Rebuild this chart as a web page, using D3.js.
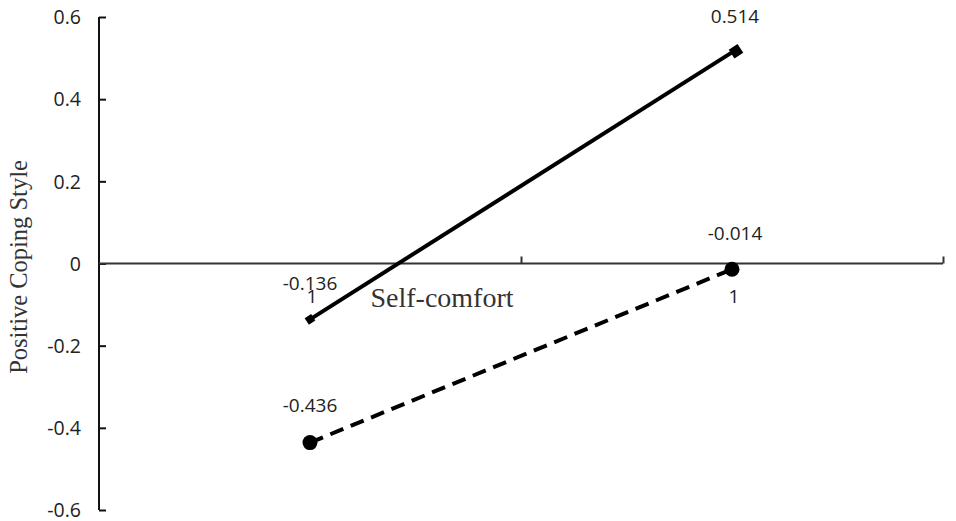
<!DOCTYPE html>
<html><head><meta charset="utf-8">
<script src="https://cdn.jsdelivr.net/npm/d3@7"></script>
<style>body{margin:0;background:#fff}svg{display:block}</style>
</head><body>
<svg id="c" width="956" height="521"></svg>
<script>
const categories = ["1", "1"];
const highSeries = [-0.136, 0.514];
const lowSeries = [-0.436, -0.014];
const yTicks = [-0.6, -0.4, -0.2, 0, 0.2, 0.4, 0.6];
const yTickLabels = ["-0.6", "-0.4", "-0.2", "0", "0.2", "0.4", "0.6"];
const yTitle = "Positive Coping Style";
const xTitle = "Self-comfort";

(function () {
const svg = d3.select("#c");
const pl = 99, pr = 943, pt = 17, pb = 510;
const sans = "Open Sans, Liberation Sans, sans-serif";
const y = d3.scaleLinear().domain([-0.6, 0.6]).range([pb, pt]);
const x = d3.scaleBand().domain([0, 1]).range([pl, pr]);
const cx = i => x(i) + x.bandwidth() / 2;

// y axis
const yAxis = d3.axisRight(y).tickValues(yTicks).tickSize(7).tickFormat((d, i) => yTickLabels[i]);
const gy = svg.append("g").attr("transform", `translate(${pl},0)`).call(yAxis);
gy.select(".domain").attr("stroke", "#111").attr("stroke-width", 2).attr("d", `M0,${pt}V${pb}`);
gy.selectAll(".tick line").attr("stroke", "#111").attr("stroke-width", 2);
gy.selectAll(".tick text").attr("x", -18).attr("text-anchor", "end").attr("dy", "0.35em")
  .attr("font-family", sans).attr("font-size", 19.5).attr("fill", "#222");

// x axis at y=0
const xAxis = d3.axisTop(d3.scaleLinear().domain([0, 2]).range([pl, pr])).tickValues([1, 2]).tickSize(7).tickFormat("");
const gx = svg.append("g").attr("transform", `translate(0,${y(0)})`).call(xAxis);
gx.select(".domain").attr("stroke", "#333").attr("stroke-width", 2).attr("d", `M${pl},0H${pr}`);
gx.selectAll(".tick line").attr("stroke", "#333").attr("stroke-width", 2);

// category labels
categories.forEach((c, i) => {
  svg.append("text").attr("x", cx(i) + 2).attr("y", y(0) + 39).attr("text-anchor", "middle")
    .attr("font-family", sans).attr("font-size", 19).attr("fill", "#222").text(c);
});

// titles
svg.append("text").attr("transform", `translate(27,267) rotate(-90)`).attr("text-anchor", "middle")
  .attr("font-family", "Liberation Serif, serif").attr("font-size", 24.5).attr("fill", "#333").text(yTitle);
svg.append("text").attr("x", 442).attr("y", 307).attr("text-anchor", "middle")
  .attr("font-family", "Liberation Serif, serif").attr("font-size", 28).attr("fill", "#333").text(xTitle);

// lines
const line = d3.line().x((d, i) => cx(i)).y(d => y(d));
svg.append("path").datum(highSeries).attr("d", line).attr("fill", "none").attr("stroke", "#000").attr("stroke-width", 4);
svg.append("path").datum(lowSeries).attr("d", line).attr("fill", "none").attr("stroke", "#000").attr("stroke-width", 4)
  .attr("stroke-dasharray", "14,8");

// markers high series
svg.append("path").attr("d", d3.symbol(d3.symbolSquare, 60)()).attr("transform", `translate(${cx(0)},${y(highSeries[0])}) rotate(-33)`).attr("fill", "#000");
svg.append("path").attr("d", d3.symbol(d3.symbolSquare, 110)()).attr("transform", `translate(${cx(1) + 4},${y(highSeries[1]) - 1}) rotate(-33)`).attr("fill", "#000");
// markers low series
lowSeries.forEach((v, i) => {
  svg.append("circle").attr("cx", cx(i)).attr("cy", y(v)).attr("r", 7.5).attr("fill", "#000");
});

// data labels
const lab = (t, xx, yy) => svg.append("text").attr("x", xx).attr("y", yy).attr("text-anchor", "middle")
  .attr("font-family", sans).attr("font-size", 19).attr("fill", "#222").text(t);
lab(highSeries[0].toFixed(3), cx(0), y(highSeries[0]) - 29);
lab(highSeries[1].toFixed(3), cx(1) + 3, y(highSeries[1]) - 29);
lab(lowSeries[0].toFixed(3), cx(0), y(lowSeries[0]) - 31);
lab(lowSeries[1].toFixed(3), cx(1) + 3, y(lowSeries[1]) - 29);
})();
</script>
</body></html>
